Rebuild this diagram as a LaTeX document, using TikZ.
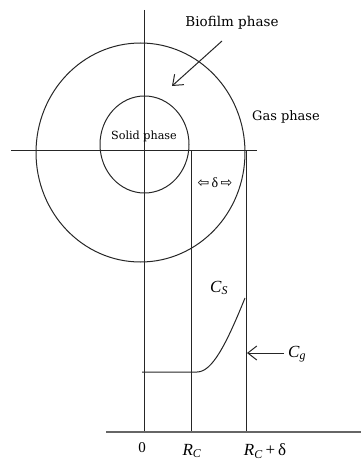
\documentclass[tikz,border=0pt]{standalone}
\usepackage{fontspec}
\setmainfont{Liberation Serif}
\newfontfamily\symfont{DejaVu Sans}
\newfontfamily\labfont{DejaVu Serif}
\usetikzlibrary{arrows.meta}
\tikzset{
  ln/.style={line width=1pt, draw=black!85},
  axisln/.style={line width=1.4pt, draw=black!60},
  lbl/.style={inner sep=0pt, font=\labfont\fontsize{13}{15}\selectfont},
  mlbl/.style={inner sep=0pt, font=\fontsize{17}{19}\selectfont},
  openarrow/.style={ln, -{Straight Barb[length=9pt, width=14pt, line width=1pt]}}
}
\begin{document}
\begin{tikzpicture}[x=1pt,y=-1pt]
\useasboundingbox (0,0) rectangle (361,460);
% circles
\draw[ln] (140.5,152.5) ellipse [x radius=104.5, y radius=109.5];
\draw[ln] (144.5,144.5) ellipse [x radius=44.5, y radius=48.5];
% axes coordinates
\coordinate (vtop) at (144,10);
\coordinate (vbot) at (144,432);
\coordinate (hleft) at (11,150);
\coordinate (hright) at (257,150);
\coordinate (rctop) at (191,150);
\coordinate (rcbot) at (191,432);
\coordinate (rdtop) at (246,150);
\coordinate (rdbot) at (246,432);
\coordinate (bleft) at (106,432);
\coordinate (bright) at (361,432);
\draw[ln] (vtop) -- (vbot);
\draw[ln] (hleft) -- (hright);
\draw[ln] (rctop) -- (rcbot);
\draw[ln] (rdtop) -- (rdbot);
\draw[axisln] (bleft) -- (bright);
% concentration profile
\coordinate (c0) at (142,372);
\coordinate (c1) at (197,372);
\coordinate (c2) at (245,298);
\draw[ln] (c0) -- (c1) .. controls (212,372) and (226,345) .. (c2);
% labels
\node[lbl, font=\labfont\fontsize{13.5}{16}\selectfont] (bio) at (232,23) {Biofilm phase};
\coordinate (bioA) at (222,41);
\coordinate (bioB) at (172,86);
\draw[openarrow] (bioA) -- (bioB);
\node[lbl] (gas) at (286,117) {Gas phase};
\node[lbl, font=\labfont\fontsize{11.2}{13}\selectfont] (solid) at (144,136) {Solid phase};
\node[lbl, font=\fontsize{14}{16}\selectfont] (delta) at (215,183) {{\symfont ⇦}\,δ\,{\symfont ⇨}};
\node[mlbl] (cs) at (219,288) {\textit{C}\textsubscript{\textit{S}}};
\node[mlbl, anchor=west] (cg) at (288,354) {\textit{C}\textsubscript{\textit{g}}};
\coordinate (cgA) at (284,353);
\coordinate (cgB) at (247,353);
\draw[openarrow] (cgA) -- (cgB);
\node[mlbl, font=\fontsize{15}{17}\selectfont] (zero) at (142,448) {0};
\node[mlbl] (rc) at (192,451) {\textit{R}\textsubscript{\textit{C}}};
\node[mlbl] (rcd) at (265,451) {\textit{R}\textsubscript{\textit{C}}\,+\,δ};
\end{tikzpicture}
\end{document}
